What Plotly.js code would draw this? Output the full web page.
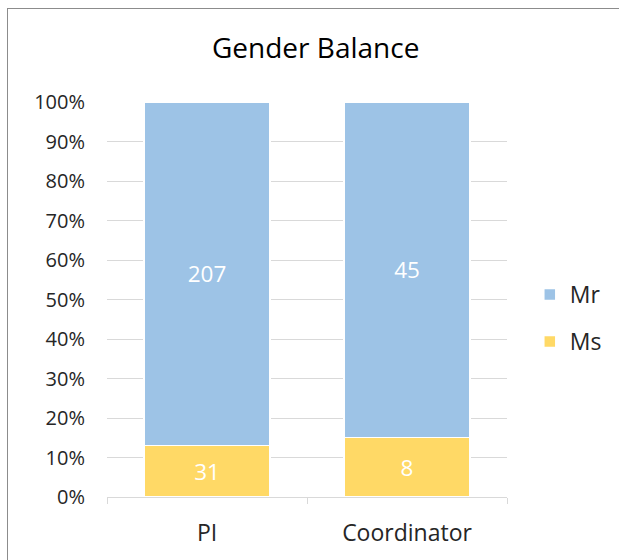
<!DOCTYPE html>
<html><head><meta charset="utf-8">
<script src="https://cdn.plot.ly/plotly-3.0.1.min.js"></script>
<style>
html,body{margin:0;padding:0;background:#fff;overflow:hidden;}
#chart{width:619px;height:560px;}
#frame{position:absolute;left:7px;top:8px;width:700px;height:700px;border:1px solid #8c8c8c;pointer-events:none;}
</style></head>
<body>
<div id="chart"></div>
<div id="frame"></div>
<script>
var categories = ["PI", "Coordinator"];
var msValues = [31, 8];
var mrValues = [207, 45];
var yTickVals = [0,10,20,30,40,50,60,70,80,90,100];
var yTickText = ["0%","10%","20%","30%","40%","50%","60%","70%","80%","90%","100%"];

var font = "'Open Sans', 'Noto Sans', sans-serif";
var traces = [
  {type:"bar", name:"Ms", x:categories, y:msValues, text:msValues.map(String),
   textposition:"inside", insidetextanchor:"middle", textangle:0,
   textfont:{color:"#ffffff", size:22.5, family:font},
   marker:{color:"#FFD966", line:{color:"#ffffff", width:1.5}},
   legendgroup:"ms", legendrank:2, hoverinfo:"none"},
  {type:"bar", name:"Mr", x:categories, y:mrValues, text:mrValues.map(String),
   textposition:"inside", insidetextanchor:"middle", textangle:0,
   textfont:{color:"#ffffff", size:22.5, family:font},
   marker:{color:"#9DC3E6", line:{color:"#ffffff", width:1.5}},
   legendgroup:"mr", legendrank:1, hoverinfo:"none"}
];
var layout = {
  width:619, height:560,
  margin:{l:107, r:110, t:102, b:63},
  paper_bgcolor:"#ffffff", plot_bgcolor:"#ffffff",
  barmode:"stack", barnorm:"percent", bargap:0.37,
  font:{family:font, color:"#262626", size:19},
  title:{text:"Gender Balance", x:0.51, xanchor:"center", y:0.914, yanchor:"middle",
         font:{family:font, size:28, color:"#000000"}},
  xaxis:{type:"category", tickson:"boundaries", ticks:"outside", ticklen:6, tickcolor:"#D9D9D9",
         showline:true, linecolor:"#D9D9D9", linewidth:1, showgrid:false, zeroline:false,
         tickfont:{family:font, size:23, color:"#262626"}, ticklabelstandoff:15, fixedrange:true},
  yaxis:{range:[0,100], tickvals:yTickVals, ticktext:yTickText, showgrid:true, gridcolor:"#D9D9D9",
         gridwidth:1, zeroline:false, showline:false, ticks:"",
         tickfont:{family:font, size:20, color:"#262626"}, ticklabelstandoff:21, fixedrange:true},
  legend:{x:1.057, xanchor:"left", y:0.453, yanchor:"middle", traceorder:"grouped",
          tracegroupgap:14, font:{family:font, size:23, color:"#262626"}, bgcolor:"rgba(0,0,0,0)"},
  showlegend:true
};
Plotly.newPlot("chart", traces, layout, {displayModeBar:false, staticPlot:true});
</script>
</body></html>
